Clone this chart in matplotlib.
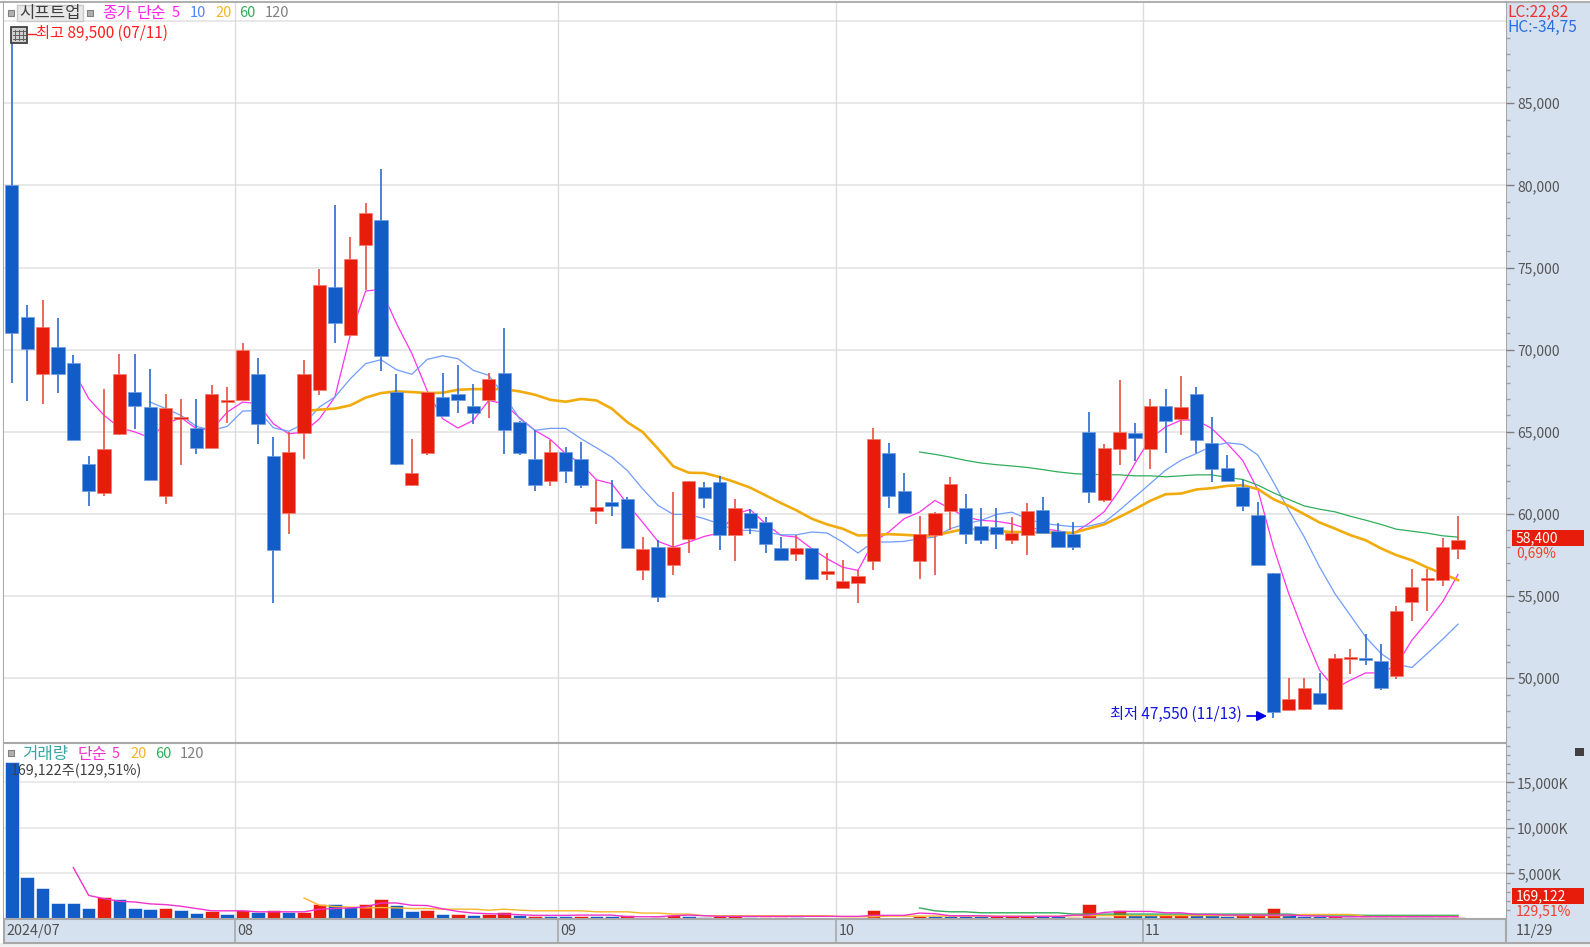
import numpy as np
import matplotlib
matplotlib.use('Agg')
import matplotlib.pyplot as plt
from matplotlib.patches import Rectangle

plt.rcParams['font.family'] = ['Noto Sans CJK KR', 'DejaVu Sans']

# daily candles
opens = [80000,72000,68540,70180,69190,63020,61290,64880,67420,66510,61070,65780,65210,64030,66830,66910,68500,63540,60070,64950,
         67520,73840,70890,76370,77880,67420,61740,63730,67120,67280,66570,66910,68580,65590,63320,61980,63770,63320,60160,60720,
         60890,56560,58000,56870,58490,61640,61940,58690,60050,59510,57920,57560,57920,56340,55510,55810,57110,63710,61410,57110,
         58690,60160,60360,59290,59200,58390,58690,60210,58950,58790,65000,60840,63960,64940,63960,66600,65790,67290,64330,62790,
         61650,59910,56410,48050,48110,49110,48150,51160,51240,51070,50120,54610,55970,55970,57870]
highs = [89500,72700,73000,71950,69650,63540,67580,69720,69720,68800,67280,66975,66975,67830,67750,70400,69490,64680,65000,69350,
         74910,78790,76880,78950,81000,68500,64540,67420,68580,69050,67890,68580,71340,65630,65130,64520,64070,64380,62080,62080,
         61030,58590,58430,61350,62020,61940,62290,60890,60280,59810,58590,58710,57920,57640,57170,56560,65230,64320,62490,59890,
         60130,62270,61190,60360,60360,59810,60660,61060,59420,59520,66220,64250,68150,65550,66990,67600,68390,67740,65910,63560,
         62060,60740,56410,50000,50000,50320,51460,51760,52720,52070,54420,56640,56620,58540,59900]
lows = [68000,66850,66700,67380,64500,60480,61070,64780,65170,62040,60600,62960,63650,64030,65530,66910,64250,54570,58770,63340,
        67220,70380,70890,73630,68720,62980,61680,63590,65940,66160,65470,65840,63650,63590,61370,61680,61900,61600,59380,59850,
        57950,55950,54650,56260,57640,60380,57780,57110,58770,57640,57170,57110,55950,55950,55510,54570,56560,60380,60070,56010,
        56260,59000,58190,58190,57860,58170,57480,58870,57960,57810,60640,60700,62970,63210,62750,63720,64800,63740,61920,62000,
        60170,56900,47550,48050,48050,48450,48050,50240,50810,49290,49980,53470,54080,55600,57240]
closes = [71000,70050,71400,68540,64500,61370,63930,68500,66550,62040,66430,65920,64030,67280,66950,69960,65490,57780,63770,68500,
          73920,71600,75520,78340,69610,63040,62490,67420,65940,66910,66160,68190,65090,63730,61740,63770,62590,61740,60420,60460,
          57950,57840,54960,58000,62020,60990,58690,60360,59160,58190,57170,57920,56030,56540,55930,56240,64540,61070,60070,58750,
          60050,61800,58790,58390,58750,58830,60190,58870,57960,57960,61310,64030,65000,64650,66600,65650,66520,64490,62750,62000,
          60470,56900,47930,48720,49390,48450,51240,51200,51100,49430,54120,55560,56050,58000,58400]

ma5 = [68740,67020,66000,65250,64990,64640,65490,65860,65190,65130,66200,66810,66710,65490,64880,64990,65800,67120,70890,73570,
       73670,71600,69775,67500,65800,65230,65700,66910,66700,65860,65090,64540,63670,63060,62080,61840,60620,59500,58330,57980,
       58290,58630,58840,60010,60260,59400,58690,58590,57880,57270,56760,56560,58290,58900,59710,60110,60820,60320,59810,59610,
       59550,59400,59100,59110,58970,58810,59420,60130,61450,63070,64590,65300,65710,65710,65200,64290,63270,61450,58000,55150,
       52720,50490,49370,49880,50320,50320,50790,52310,53430,54650,56310]
ma10 = [66810,66410,66000,65330,65090,65330,66260,66300,65250,65030,65490,66510,67120,68230,69150,69390,68780,68500,69410,69630,
        69450,68740,68440,67220,65800,65090,65210,65210,64580,64030,63460,62650,61530,60520,59970,59970,59710,59400,59000,59000,
        58900,58730,58730,58900,58840,58290,57620,58290,58290,58330,58490,58590,59100,59400,59610,59970,60110,59710,59420,59320,
        59220,59260,59480,60230,61040,61850,62670,63270,63680,64130,64330,64230,63580,61950,60230,58610,56780,55150,53830,52510,
        51500,50850,50650,51500,52370,53290]
ma20 = [66260,66350,66410,66610,67080,67360,67460,67420,67360,67380,67560,67600,67600,67600,67460,67260,66950,66830,67000,66910,
        66410,65590,64990,63970,62900,62510,62490,62250,61940,61600,61130,60660,60220,59710,59360,59100,58690,58710,58770,58730,
        58670,58690,58900,59100,59040,58960,58900,58900,58870,58850,58850,59110,59360,59820,60290,60800,61200,61240,61490,61570,
        61710,61750,61510,60900,60490,59990,59480,59110,58710,58400,57900,57490,57180,56740,56370,55970]
ma60 = [63770,63630,63460,63260,63100,63000,62920,62830,62700,62560,62460,62400,62400,62380,62320,62320,62260,62320,62380,62380,
        62220,62100,61750,61290,60880,60490,60290,60130,59860,59620,59360,59070,58950,58830,58670,58590]

# volume in thousand shares
volume = [17200,4600,3380,1800,1800,1220,2450,2200,1220,1080,1220,940,680,900,540,940,790,940,790,790,
          1660,1660,1300,1660,2200,1510,830,940,540,540,400,500,790,430,360,360,360,360,360,360,
          430,150,220,430,360,220,290,290,220,220,220,220,150,150,150,150,970,150,150,320,
          320,320,320,320,320,320,320,320,320,200,1620,250,970,430,430,430,430,430,430,320,
          400,400,1260,430,360,320,320,250,220,220,220,220,220,220,250]
volume_up = [0,0,0,0,0,0,1,0,0,0,1,0,0,1,0,1,0,1,0,1,
             1,0,0,1,1,0,0,1,0,1,0,1,1,0,1,0,0,1,0,0,
             1,0,1,1,0,0,1,1,0,1,1,0,1,1,0,0,1,0,0,1,
             0,0,0,0,1,1,1,0,0,1,1,0,1,0,0,1,1,0,0,0,
             1,1,1,0,0,0,1,0,1,0,1,0,0,1,1]
vol_ma5 = [5650,2590,2230,1940,1870,1660,1580,1400,1150,900,900,900,790,790,790,790,1080,1150,1220,1330,
           1760,1760,1510,1480,1120,830,650,580,540,470,400,400,400,430,430,430,250,250,250,360,
           430,360,290,290,290,290,290,290,290,290,290,290,400,400,400,650,580,360,360,360,
           290,290,290,290,290,430,430,720,830,830,830,680,680,500,500,430,430,430,430,430,
           360,320,250,250,250,250,250,250,250,250,250]
vol_ma20 = [2300,1510,1370,1300,1220,1260,1220,1150,1150,1080,1080,1080,970,1080,970,900,900,900,900,790,
            790,790,650,650,540,540,360,360,360,360,360,360,360,360,360,250,250,250,320,320,
            320,320,320,320,320,300,300,300,300,300,370,370,370,370,370,370,370,370,370,370,
            370,370,370,370,370,500,500,500,500,280,280,280,280,280,280,280]
vol_ma60 = [1220,900,790,790,680,680,680,680,680,680,540,540,540,540,540,540,540,540,540,540,
            540,540,540,540,540,430,430,430,430,400,400,400,400,400,400,400]

price_ticks = [50000,55000,60000,65000,70000,75000,80000,85000]
volume_ticks = [5000,10000,15000]
month_labels = ['08','09','10','11']
month_edges = [14.5,35.5,53.6,73.5]

RED = '#e81c0a'
BLUE = '#125cc8'
PANEL = '#d6e1ef'
W, H = 1590, 947
LEFT, RIGHT = 4, 1506
FIRST, STEP = 11.8, 15.385   # pixel x of first candle and candle spacing
N = len(closes)
x = np.arange(N)
ups = np.array(closes) >= np.array(opens)


def px_axes(top, bottom):
    return [LEFT / W, 1 - bottom / H, (RIGHT - LEFT) / W, (bottom - top) / H]


fig = plt.figure(figsize=(W / 100, H / 100), dpi=100, facecolor='#f0f0f0')

# background panels in pixel coordinates
bg = fig.add_axes([0, 0, 1, 1], zorder=0)
bg.set_xlim(0, W)
bg.set_ylim(H, 0)
bg.axis('off')
bg.add_patch(Rectangle((0, 0), W, 943, fc='white', ec='none'))
bg.add_patch(Rectangle((RIGHT, 3), W - RIGHT, 940, fc=PANEL, ec='none'))
bg.add_patch(Rectangle((LEFT, 919), RIGHT - LEFT, 24, fc=PANEL, ec='none'))
bg.plot([0, W], [2, 2], color='#b0b0b0', lw=1.5)
bg.plot([LEFT, W], [943, 943], color='#a8a8a8', lw=1.5)
bg.plot([RIGHT, RIGHT], [2, 943], color='#a8a8a8', lw=1.5)
bg.plot([LEFT, LEFT], [2, 943], color='#a8a8a8', lw=1.5)
for e in month_edges:
    bg.plot([FIRST + e * STEP] * 2, [919, 943], color='#a8a8a8', lw=1.2)

# price panel
ax = fig.add_axes(px_axes(3, 743), zorder=1)
ax.set_xlim((LEFT - FIRST) / STEP, (RIGHT - FIRST) / STEP)
ax.set_ylim(46055, 91106)
ax.set_yticks(price_ticks)
ax.set_yticklabels([f'{v:,}' for v in price_ticks], fontsize=10, color='#555555', va='center_baseline')
ax.set_yticks(np.arange(47000, 90000, 1000), minor=True)
ax.yaxis.tick_right()
ax.tick_params(axis='y', which='major', length=6, width=1, color='#808080', pad=2)
ax.tick_params(axis='y', which='minor', length=3, width=1, color='#a0a0a0')
ax.set_xticks([])
for v in price_ticks + [90000]:
    ax.axhline(v, color='#e4e4e4', lw=1.2, zorder=1)
for e in month_edges:
    ax.axvline(e, color='#dcdcdc', lw=1.0, zorder=1)
for s in ax.spines.values():
    s.set_visible(False)

ax.plot(np.arange(4, 4 + len(ma5)), ma5, color='#ff33ee', lw=0.9, zorder=2)
ax.plot(np.arange(9, 9 + len(ma10)), ma10, color='#6f9cff', lw=0.9, zorder=2)
ax.plot(np.arange(59, 59 + len(ma60)), ma60, color='#2fae5a', lw=0.9, zorder=2)
ax.plot(np.arange(19, 19 + len(ma20)), ma20, color='#f2ab0c', lw=1.9, zorder=2.2)

wick_colors = ['#e8503f' if u else '#2b6bd0' for u in ups]
ax.vlines(x, lows, highs, colors=wick_colors, lw=1.2, zorder=3)
body_low = np.minimum(opens, closes)
body_h = np.maximum(np.abs(np.array(closes) - np.array(opens)), 120)
ax.bar(x, body_h, bottom=body_low, width=0.86,
       color=[RED if u else BLUE for u in ups],
       edgecolor=['#f27a6c' if u else '#6d9ce0' for u in ups], lw=0.5, zorder=3.1)

# volume panel
vax = fig.add_axes(px_axes(743, 919), zorder=1)
vax.set_xlim(ax.get_xlim())
vax.set_ylim(0, 19340)
vax.set_yticks(volume_ticks)
vax.set_yticklabels([f'{v:,}K' for v in volume_ticks], fontsize=10, color='#555555', va='center_baseline')
vax.set_yticks(np.arange(1000, 20000, 1000), minor=True)
vax.yaxis.tick_right()
vax.tick_params(axis='y', which='major', length=6, width=1, color='#808080', pad=2)
vax.tick_params(axis='y', which='minor', length=3, width=1, color='#a0a0a0')
vax.set_xticks([])
for v in volume_ticks:
    vax.axhline(v, color='#e6e6e6', lw=1.2, zorder=1)
for e in month_edges:
    vax.axvline(e, color='#dcdcdc', lw=1.0, zorder=1)
for s in vax.spines.values():
    s.set_visible(False)
vax.spines['top'].set_visible(True)
vax.spines['top'].set_color('#a8a8a8')
vax.spines['top'].set_linewidth(1.5)
vax.spines['bottom'].set_visible(True)
vax.spines['bottom'].set_color('#a8a8a8')
vax.spines['bottom'].set_linewidth(1.5)

vax.bar(x, volume, width=0.88, color=[RED if u else BLUE for u in volume_up],
        edgecolor='#ffffff', lw=0.4, zorder=2)
vax.plot(np.arange(59, 59 + len(vol_ma60)), vol_ma60, color='#2fae5a', lw=1.0, zorder=3)
vax.plot(np.arange(19, 19 + len(vol_ma20)), vol_ma20, color='#f5b52a', lw=1.0, zorder=3.1)
vax.plot(np.arange(4, 4 + len(vol_ma5)), vol_ma5, color='#ee33cc', lw=1.0, zorder=3.2)

# texts and small widgets on top, also in pixels
top = fig.add_axes([0, 0, 1, 1], zorder=5)
top.set_xlim(0, W)
top.set_ylim(H, 0)
top.axis('off')
top.patch.set_alpha(0)


def label(px, py, s, color, size=10.5, ha='left'):
    top.text(px, py, s, color=color, fontsize=size, ha=ha, va='center')


def square(px, py):
    top.add_patch(Rectangle((px - 3, py - 3), 6, 6, fc='#b0b0b0', ec='#808080', lw=0.8))


square(11, 13)
top.add_patch(Rectangle((17, 5), 66, 16, fc='#e8e8e8', ec='#c8c8c8', lw=1))
label(50, 13, '시프트업', '#404040', 12, 'center')
square(90, 13)
label(102, 13, '종가', '#ff22ee', 11.5)
label(137, 13, '단순', '#ff22ee', 11.5)
label(172, 13, '5', '#ff22ee')
label(190, 13, '10', '#4d86ff')
label(215, 13, '20', '#f5b52a')
label(239, 13, '60', '#2fae5a')
label(265, 13, '120', '#808080')

top.add_patch(Rectangle((11, 27), 16, 16, fc='#d0d0d0', ec='#404040', lw=1.3))
for gx in (15, 19, 23):
    top.plot([gx, gx], [30, 40], color='#606060', lw=0.7)
for gy in (31, 35, 39):
    top.plot([13, 25], [gy, gy], color='#606060', lw=0.7)
top.plot([28, 36], [34, 34], color='#ff2020', lw=1)
label(36.5, 33, '최고 89,500 (07/11)', '#ff2020', 11)

label(1110, 714, '최저 47,550 (11/13)', '#1414e6', 11)
top.annotate('', xy=(1267, 716), xytext=(1247, 716),
             arrowprops=dict(arrowstyle='-|>', color='#0000e0', lw=1.2, mutation_scale=15,
                             shrinkA=0, shrinkB=0))

label(1507, 12, 'LC:22,82', '#f03030', 11.2)
label(1507, 27, 'HC:-34,75', '#2a6fe0', 11.2)

top.add_patch(Rectangle((1512, 530), 72, 16, fc=RED, ec='none'))
label(1516, 538, '58,400', 'white', 10)
label(1516, 553, '0,69%', '#f04030', 10)

square(11, 753)
label(22, 754, '거래량', '#3aa6a6', 12)
label(78, 754, '단순', '#ee33cc', 11.5)
label(112, 754, '5', '#ee33cc')
label(130, 754, '20', '#f5b52a')
label(155, 754, '60', '#2fae5a')
label(180, 754, '120', '#808080')
label(11, 771, '169,122주(129,51%)', '#404040', 10.3)

top.add_patch(Rectangle((1575, 748), 9, 8, fc='#404040', ec='none'))
top.add_patch(Rectangle((1512, 888), 72, 16, fc=RED, ec='none'))
label(1516, 896, '169,122', 'white', 10)
label(1516, 911, '129,51%', '#f04030', 10)

label(6, 931, '2024/07', '#505050', 10.3)
for name, e in zip(month_labels, month_edges):
    label(FIRST + e * STEP + 2, 931, name, '#505050', 10.3)
label(1516, 931, '11/29', '#505050', 10.3)

fig.savefig('out.png', dpi=100, facecolor=fig.get_facecolor())
